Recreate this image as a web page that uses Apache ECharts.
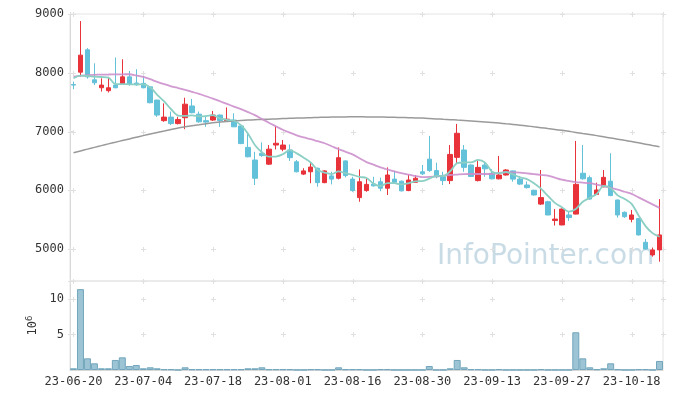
<!DOCTYPE html>
<html><head><meta charset="utf-8">
<script src="https://cdn.jsdelivr.net/npm/echarts/dist/echarts.min.js"></script>
<style>html,body{margin:0;padding:0;background:#fff}#c{width:673px;height:399px}</style>
</head><body><div id="c"></div>
<script>
const dates = ['23-06-20','23-06-21','23-06-22','23-06-23','23-06-26','23-06-27','23-06-28','23-06-29','23-06-30',
'23-07-03','23-07-04','23-07-05','23-07-06','23-07-07','23-07-10','23-07-11','23-07-12','23-07-13','23-07-14','23-07-17','23-07-18','23-07-19','23-07-20','23-07-21','23-07-24','23-07-25','23-07-26','23-07-27','23-07-28','23-07-31',
'23-08-01','23-08-02','23-08-03','23-08-04','23-08-07','23-08-08','23-08-09','23-08-10','23-08-11','23-08-14','23-08-16','23-08-17','23-08-18','23-08-21','23-08-22','23-08-23','23-08-24','23-08-25','23-08-28','23-08-29','23-08-30','23-08-31',
'23-09-01','23-09-04','23-09-05','23-09-06','23-09-07','23-09-08','23-09-11','23-09-12','23-09-13','23-09-14','23-09-15','23-09-18','23-09-19','23-09-20','23-09-21','23-09-22','23-09-25','23-09-26','23-09-27',
'23-10-04','23-10-05','23-10-06','23-10-10','23-10-11','23-10-12','23-10-13','23-10-16','23-10-17','23-10-18','23-10-19','23-10-20','23-10-23','23-10-24'];

const opens  = [7800,8010,8390,7880,7745,7695,7790,7815,7930,7825,7820,7760,7535,7185,7245,7135,7235,7435,7295,7185,7195,7280,7180,7195,7095,6730,6515,6630,6445,6770,6700,6685,6485,6275,6315,6375,6130,6245,6205,6500,6190,5875,5995,6105,6145,6035,6190,6155,5995,6135,6315,6530,6335,6230,6165,6560,6685,6430,6165,6430,6290,6195,6260,6330,6190,6090,6000,5765,5805,5485,5410,5580,5595,6290,6215,5930,6060,6155,5835,5625,5505,5520,5115,4900,4985];
const closes = [7790,8300,7930,7830,7790,7745,7745,7930,7805,7795,7745,7490,7280,7245,7135,7205,7465,7320,7165,7160,7280,7185,7210,7080,6795,6570,6205,6590,6700,6800,6770,6555,6315,6330,6395,6130,6330,6190,6555,6250,5995,6145,6100,6075,6035,6260,6135,5990,6175,6205,6280,6335,6230,6165,6610,6970,6390,6235,6390,6365,6195,6260,6345,6190,6105,6045,5920,5875,5580,5510,5680,5535,6100,6195,5850,6005,6220,5910,5580,5550,5580,5240,5000,4985,5240];
const lows   = [7720,7930,7900,7790,7680,7665,7735,7800,7780,7780,7735,7480,7250,7165,7110,7120,7040,7310,7150,7080,7180,7080,7165,7075,6785,6560,6090,6570,6430,6695,6665,6500,6305,6260,6120,6060,6120,6100,6185,6220,5975,5805,5975,6065,5985,5920,6125,5980,5985,6130,6260,6315,6205,6090,6105,6460,6315,6225,6150,6230,6185,6185,6250,6145,6090,6030,5910,5750,5575,5400,5405,5480,5590,6180,5840,5920,6050,5900,5535,5530,5455,5230,4990,4870,4785];
const highs  = [7850,8880,8420,8160,7905,7930,8260,8230,8030,8060,7945,7770,7540,7480,7340,7250,7575,7555,7340,7270,7350,7290,7410,7310,7100,6985,6655,6815,6770,7095,6855,6780,6515,6375,6475,6385,6340,6315,6730,6510,6230,6355,6205,6230,6215,6390,6330,6165,6270,6260,6430,6925,6470,6315,6770,7130,6770,6440,6505,6485,6360,6585,6360,6335,6245,6150,6010,6345,5820,5680,5690,5645,6840,6770,6250,6130,6345,6630,5840,5640,5665,5525,5170,5025,5850];

const ma5   = [7906,7950,7945,7935,7928,7919,7808,7808,7803,7804,7804,7753,7623,7511,7379,7271,7266,7274,7258,7263,7278,7222,7200,7183,7110,6968,6772,6648,6572,6573,6613,6683,6628,6554,6473,6345,6300,6275,6320,6291,6264,6227,6209,6113,6070,6123,6121,6099,6119,6153,6157,6197,6245,6243,6324,6462,6473,6474,6519,6470,6315,6289,6311,6271,6219,6189,6121,6027,5905,5786,5713,5636,5681,5804,5872,5937,6074,6036,5913,5853,5768,5572,5390,5271,5209];
const ma20  = [7935,7948,7960,7965,7968,7970,7972,7974,7975,7955,7930,7890,7845,7805,7770,7740,7710,7675,7640,7600,7560,7515,7470,7425,7380,7330,7280,7215,7150,7090,7030,6980,6935,6900,6870,6835,6800,6750,6700,6655,6610,6545,6480,6435,6390,6355,6320,6290,6265,6245,6225,6228,6235,6248,6260,6268,6275,6277,6277,6277,6280,6295,6310,6305,6300,6288,6275,6262,6250,6215,6180,6160,6140,6130,6120,6095,6070,6040,6010,5975,5940,5880,5820,5760,5700];
const ma120 = [6640,6670,6700,6730,6760,6790,6818,6846,6874,6902,6930,6957,6983,7008,7034,7060,7080,7098,7115,7133,7150,7160,7170,7180,7188,7195,7200,7205,7210,7215,7220,7224,7228,7232,7236,7240,7242,7245,7247,7249,7250,7250,7249,7248,7246,7244,7241,7238,7235,7231,7228,7222,7215,7208,7202,7195,7188,7180,7172,7164,7155,7144,7132,7120,7108,7095,7080,7066,7050,7035,7020,7003,6985,6967,6949,6930,6910,6890,6870,6850,6830,6808,6785,6762,6740];

const volume = [0.24,11.36,1.64,0.94,0.24,0.24,1.41,1.78,0.56,0.70,0.24,0.38,0.24,0.10,0.10,0.02,0.38,0.10,0.10,0.10,0.10,0.10,0.10,0.10,0.10,0.24,0.24,0.38,0.10,0.10,0.10,0.10,0.02,0.02,0.10,0.10,0.02,0.02,0.38,0.10,0.10,0.10,0.02,0.02,0.10,0.10,0.02,0.02,0.02,0.02,0.02,0.56,0.02,0.02,0.24,1.41,0.38,0.10,0.10,0.02,0.02,0.10,0.02,0.02,0.02,0.02,0.02,0.10,0.02,0.02,0.02,0.02,5.30,1.64,0.38,0.10,0.24,0.94,0.10,0.02,0.02,0.10,0.10,0.02,1.27];

const priceTicks = [5000,6000,7000,8000,9000];
const volTicks = [5,10];
const priceMin = 4456, priceMax = 9000;
const volMax = 12.5;

const RED = '#e8333b', BLUE = '#63c1d9';
const FONT = 'DejaVu Sans Mono';
const ohlc = dates.map((d,i)=>[opens[i],closes[i],lows[i],highs[i]]);

const chart = echarts.init(document.getElementById('c'), null, {renderer:'canvas'});
chart.setOption({
  animation:false,
  backgroundColor:'#fff',
  textStyle:{fontFamily:FONT},
  grid:[
    {left:70,right:10,top:14,height:267,show:true,borderColor:'#e4e4e4',borderWidth:1},
    {left:70,right:10,top:281,height:89,show:true,borderColor:'#e4e4e4',borderWidth:1}
  ],
  xAxis:[
    {type:'category',gridIndex:0,data:dates,boundaryGap:true,axisLine:{show:false},axisTick:{show:false},axisLabel:{show:false},splitLine:{show:false}},
    {type:'category',gridIndex:1,data:dates,boundaryGap:true,axisLine:{show:true,lineStyle:{color:'#d8d8d8'}},axisTick:{show:false},
     axisLabel:{interval:9,color:'#333',fontSize:12,fontFamily:FONT,margin:6},splitLine:{show:false}}
  ],
  yAxis:[
    {type:'value',gridIndex:0,min:priceMin,max:priceMax,splitNumber:5,scale:true,
     axisLine:{show:true,lineStyle:{color:'#d8d8d8'}},axisTick:{show:true,inside:true,length:3,lineStyle:{color:'#dcdcdc'}},
     axisLabel:{color:'#333',fontSize:12,fontFamily:FONT,margin:6,formatter:v=>priceTicks.indexOf(v)>=0?String(v):''},splitLine:{show:false}},
    {type:'value',gridIndex:1,min:0,max:volMax,interval:5,
     name:'{b|10}{s|6}',nameLocation:'middle',nameRotate:90,nameGap:28,
     nameTextStyle:{color:'#333',fontFamily:FONT,rich:{b:{fontSize:12,fontFamily:FONT,color:'#333'},s:{fontSize:9,fontFamily:FONT,color:'#333',verticalAlign:'top',padding:[0,0,6,0]}}},
     axisLine:{show:true,lineStyle:{color:'#d8d8d8'}},axisTick:{show:false},
     axisLabel:{color:'#333',fontSize:12,fontFamily:FONT,margin:6,formatter:v=>volTicks.indexOf(v)>=0?String(v):''},splitLine:{show:false}}
  ],
  series:[
    {type:'candlestick',xAxisIndex:0,yAxisIndex:0,data:ohlc,barWidth:5,
     itemStyle:{color:RED,color0:BLUE,borderColor:RED,borderColor0:BLUE,borderWidth:1}},
    {type:'line',xAxisIndex:0,yAxisIndex:0,data:ma120,showSymbol:false,smooth:0.3,lineStyle:{color:'#9a9a9a',width:1.5},z:3},
    {type:'line',xAxisIndex:0,yAxisIndex:0,data:ma20,showSymbol:false,smooth:0.3,lineStyle:{color:'#cc8fcc',width:1.8,opacity:0.9},z:3},
    {type:'line',xAxisIndex:0,yAxisIndex:0,data:ma5,showSymbol:false,smooth:0.3,lineStyle:{color:'#8ccfc4',width:1.8},z:3},
    {type:'bar',xAxisIndex:1,yAxisIndex:1,data:volume,barCategoryGap:'0%',
     itemStyle:{color:'#9cc4d4',borderColor:'#72a6bc',borderWidth:1}}
  ]
});

// grid cross markers at label positions / tick values
const n = dates.length;
const xs = [];
for (let k=0;k<n;k+=10) xs.push(chart.convertToPixel({xAxisIndex:0},k));
const xa = chart.convertToPixel({xAxisIndex:0},0), xb = chart.convertToPixel({xAxisIndex:0},n-1);
const bw = (xb-xa)/(n-1);
xs.push(xa-bw/2, xb+bw/2);
const ys = priceTicks.map(v=>chart.convertToPixel({yAxisIndex:0},v));
ys.push(chart.convertToPixel({yAxisIndex:0},priceMin));
volTicks.forEach(v=>ys.push(chart.convertToPixel({yAxisIndex:1},v)));
const els = [];
const a = 2.5, col = '#e0e0e0';
xs.forEach(x=>{ys.forEach(y=>{
  const X = Math.round(x)+0.5, Y = Math.round(y)+0.5;
  els.push({type:'line',silent:true,z:1,shape:{x1:X-a,y1:Y,x2:X+a,y2:Y},style:{stroke:col,lineWidth:1}});
  els.push({type:'line',silent:true,z:1,shape:{x1:X,y1:Y-a,x2:X,y2:Y+a},style:{stroke:col,lineWidth:1}});
});});
els.push({type:'text',silent:true,z:0,x:437,y:257,style:{text:'InfoPointer.com',font:'28px "DejaVu Sans"',fill:'rgba(165,196,213,0.6)',textVerticalAlign:'middle'}});
chart.setOption({graphic:els});
</script></body></html>
